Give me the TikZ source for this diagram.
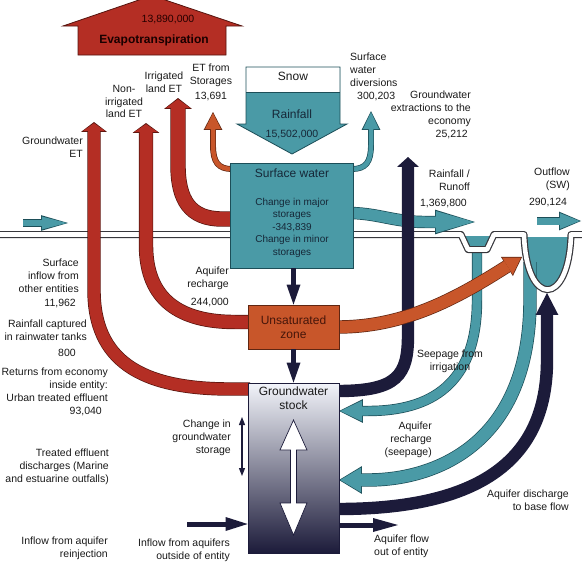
\documentclass[tikz,border=0pt]{standalone}
\usepackage{fontspec}
\setmainfont{Liberation Sans}
\usetikzlibrary{arrows.meta}
\definecolor{etred}{RGB}{180,46,36}
\definecolor{redge}{RGB}{85,20,14}
\definecolor{teal1}{RGB}{74,154,166}
\definecolor{tedge}{RGB}{28,78,88}
\definecolor{orng}{RGB}{200,86,42}
\definecolor{oedge}{RGB}{95,38,18}
\definecolor{navy}{RGB}{28,27,58}
\definecolor{gwtop}{RGB}{242,244,250}
\definecolor{gwmid}{RGB}{150,152,176}
\definecolor{txtc}{RGB}{25,25,25}
\definecolor{swtxt}{RGB}{22,40,56}
\definecolor{untxt}{RGB}{70,22,10}
\definecolor{gedge}{RGB}{55,55,60}
\newcommand{\lblfont}{\fontsize{10.5}{12.7}\selectfont}
\newcommand{\flowarr}[6]{%
  \pgfmathsetmacro{\fa}{#3+1.4}%
  \pgfmathsetmacro{\fb}{#4+2.6}%
  \pgfmathsetmacro{\fc}{#5+1.8}%
  \draw[line width=\fa pt, draw=#2, -{Triangle[width=\fb pt,length=\fc pt,line width=0pt]}] #6;%
  \draw[line width=#3pt, draw=#1, -{Triangle[width=#4pt,length=#5pt,line width=0pt]}, shorten >=1.2pt] #6;%
}
\tikzset{
  lbl/.style={font=\lblfont, text=txtc, inner sep=0pt},
  navyarr/.style={draw=navy, line width=5pt, -{Triangle[width=14pt,length=20pt,line width=0pt]}},
}
\begin{document}
\begin{tikzpicture}[x=1pt,y=-1pt]
\useasboundingbox (0,0) rectangle (582,562);
\def\groundpath{(0,234.5) -- (461,234.5) -- (468,249.5) -- (487,249.5) -- (494,234.5) -- (524,234.5) .. controls (526,308) and (569,308) .. (571,234.5) -- (582,234.5)}

% water
\fill[teal1] (462,236) -- (469,249) -- (486,249) -- (493,236) -- cycle;
\fill[teal1] (524,237) .. controls (526,308) and (569,308) .. (571,237) -- cycle;

% teal bands from channels (under the ground band)
\flowarr{teal1}{tedge}{9}{21}{22}{(477,252) -- (477,300) .. controls (477,385) and (430,411) .. (368,411) -- (339,411)}
\flowarr{teal1}{tedge}{12}{25}{21}{(530,262) -- (530,300) .. controls (530,440) and (440,480) .. (368,480) -- (339,480)}

% ground surface
\draw[line width=7pt, gedge, line join=round] \groundpath;
\draw[line width=4.6pt, white, line join=round] \groundpath;

% named flow ends
\coordinate (gwetT) at (94,122);
\coordinate (nirrT) at (146,123);
\coordinate (irrT) at (178,98);
\coordinate (etsT) at (213,112);
\coordinate (divT) at (371,111);
\coordinate (runT) at (475,222);
\coordinate (extT) at (408,157);
\coordinate (disT) at (547,293);
\coordinate (orT) at (522,257);
\coordinate (siA) at (23,223);
\coordinate (siB) at (68,223);
\coordinate (ofA) at (537,221);
\coordinate (ofB) at (581,221);

% ET flows
\flowarr{etred}{redge}{12}{23}{8}{(250,389) -- (230,389) .. controls (140,389) and (94,360) .. (94,290) -- (gwetT)}
\flowarr{etred}{redge}{13}{24}{8}{(250,322) -- (235,322) .. controls (180,322) and (146,300) .. (146,245) -- (nirrT)}
\flowarr{etred}{redge}{14}{25}{9}{(232,219) -- (222,219) .. controls (190,219) and (178,200) .. (178,165) -- (irrT)}
\flowarr{orng}{oedge}{4.5}{16}{16}{(232,169) .. controls (218,169) and (213,162) .. (213,145) -- (etsT)}
\flowarr{teal1}{tedge}{4.5}{16}{17}{(352,169) .. controls (366,169) and (371,162) .. (371,145) -- (divT)}

% runoff, extraction, discharge, orange
\flowarr{teal1}{tedge}{11}{22}{38}{(352,213) .. controls (380,214) and (395,222) .. (425,222) -- (runT)}
\flowarr{navy}{navy}{11}{19}{8}{(338,391) .. controls (398,391) and (408,375) .. (408,335) -- (extT)}
\flowarr{navy}{navy}{11}{20}{20}{(338,509) .. controls (480,509) and (547,460) .. (547,360) -- (disT)}
\flowarr{orng}{oedge}{12}{20}{16}{(338,327) .. controls (400,327) and (450,302) .. (498,272) -- (orT)}

% small surface arrows
\flowarr{teal1}{tedge}{6}{13}{25}{(siA) -- (siB)}
\flowarr{teal1}{tedge}{7}{16}{20}{(ofA) -- (ofB)}

% Evapotranspiration arrow
\begin{scope}
\clip (0,0) rectangle (582,562);
\draw[fill=etred, draw=redge, line width=0.8pt] (78,55) -- (78,26) -- (63,26) -- (152,-4.5) -- (242,26) -- (226,26) -- (226,55) -- cycle;
\end{scope}
\node[font=\lblfont, text=black!85!red, inner sep=0pt, anchor=mid] (evv) at (168,20) {13,890,000};
\node[font=\fontsize{12}{14}\selectfont\bfseries, text=black!90!red, inner sep=0pt] (evt) at (154,40) {Evapotranspiration};

% Snow / Rainfall arrow
\fill[teal1] (246,67) -- (340,67) -- (340,124) -- (347,124) -- (292,154) -- (237,124) -- (246,124) -- cycle;
\fill[white] (246,67) rectangle (340,92);
\draw[tedge, line width=0.8pt, line join=miter] (246,67) -- (340,67) -- (340,124) -- (347,124) -- (292,154) -- (237,124) -- (246,124) -- cycle;
\draw[tedge, line width=0.8pt] (246,92) -- (340,92);
\node[font=\fontsize{12}{14}\selectfont, text=txtc, inner sep=0pt, anchor=mid] (snow) at (293,78) {Snow};
\node[font=\fontsize{12}{14}\selectfont, text=swtxt, inner sep=0pt, anchor=mid] (rain) at (292,116) {Rainfall};
\node[font=\lblfont, text=swtxt, inner sep=0pt, anchor=mid] (rainv) at (292,135) {15,502,000};

% boxes
\node[draw=tedge, fill=teal1, line width=0.8pt, minimum width=123pt, minimum height=105pt, inner sep=0pt] (sw) at (291.5,215.5) {};
\node[font=\fontsize{12}{14}\selectfont, text=swtxt, inner sep=0pt, anchor=mid] (swt) at (292,175) {Surface water};
\node[font=\fontsize{10}{12.5}\selectfont, text=swtxt, inner sep=0pt, align=center, anchor=north] (swd) at (292,198) {Change in major\\storages\\-343,839\\Change in minor\\storages};

\node[draw=oedge, fill=orng, line width=0.8pt, minimum width=91pt, minimum height=44pt, inner sep=0pt, font=\fontsize{12}{13.5}\selectfont, text=untxt, align=center] (un) at (293.5,327) {Unsaturated\\zone};

\node[draw=navy, top color=gwtop, middle color=gwmid, bottom color=navy, line width=0.8pt, minimum width=91pt, minimum height=170pt, inner sep=0pt] (gw) at (293.5,468) {};
\node[font=\fontsize{12}{13.5}\selectfont, text=txtc, inner sep=0pt, align=center, anchor=north] (gwt) at (293.5,387) {Groundwater\\stock};

% arrows between boxes
\draw[navyarr] (sw.south -| un.north) -- (un.north);
\draw[navyarr] (un.south) -- (gw.north);

% double arrow in groundwater stock
\draw[fill=white, draw=navy, line width=0.7pt, line join=miter] (293.5,420) -- (307,450) -- (296.5,450) -- (296.5,503) -- (307,503) -- (293.5,535) -- (280,503) -- (290.5,503) -- (290.5,450) -- (280,450) -- cycle;

% change in storage arrow
\coordinate (cs1) at (242,417);
\coordinate (cs2) at (242,476);
\draw[navy, line width=1.3pt, {Triangle[width=6pt,length=8pt]}-{Triangle[width=6pt,length=8pt]}] (cs1) -- (cs2);

% aquifer in/out arrows
\coordinate (inA) at (187,524);
\coordinate (outB) at (398,525);
\draw[navy, line width=5pt, -{Triangle[width=14pt,length=22pt,line width=0pt]}] (inA) -- (gw.west |- inA);
\draw[navy, line width=5pt, -{Triangle[width=14pt,length=25pt,line width=0pt]}] (gw.east |- outB) -- (outB);

% labels
\node[lbl, align=center, anchor=north] (etst) at (211,64) {ET from\\Storages\\[2pt]13,691};
\node[lbl, align=center, anchor=north] (irr) at (164,72) {Irrigated\\land ET};
\node[lbl, align=center, anchor=north] (nirr) at (124,85) {Non-\\irrigated\\land ET};
\node[lbl, align=right, anchor=north east] (gwet) at (83,137) {Groundwater\\ET};
\node[lbl, align=left, anchor=north west] (swdiv) at (350,53) {Surface\\water\\diversions\\[1pt]\hspace*{7pt}300,203};
\node[lbl, align=right, anchor=north east] (gwext) at (471,91) {Groundwater\\extractions to the\\economy\\[1pt]25,212\hspace*{3pt}};
\node[lbl, align=right, anchor=north east] (runoff) at (470,170) {Rainfall /\\Runoff\\[3pt]1,369,800\hspace*{3pt}};
\node[lbl, align=right, anchor=north east] (outfl) at (570,168) {Outflow\\(SW)};
\node[lbl, anchor=mid] (outv) at (548,203) {290,124};
\node[lbl, align=right, anchor=north east] (sinfl) at (79,259) {Surface\\inflow from\\other entities};
\node[lbl, anchor=mid east] (sinv) at (76,304) {11,962};
\node[lbl, align=right, anchor=north east] (rwt) at (87,320) {Rainfall captured\\in rainwater tanks};
\node[lbl, anchor=mid] (rwtv) at (67,354) {800};
\node[lbl, align=right, anchor=north east] (ret) at (108,368) {Returns from economy\\inside entity:\\Urban treated effluent};
\node[lbl, anchor=mid east] (retv) at (102,412) {93,040};
\node[lbl, align=right, anchor=north east] (teff) at (109,449) {Treated effluent\\discharges (Marine\\and estuarine outfalls)};
\node[lbl, align=right, anchor=north east] (reinj) at (108,537) {Inflow from aquifer\\reinjection};
\node[lbl, align=right, anchor=north east] (cgs) at (231,420) {Change in\\groundwater\\storage};
\node[lbl, align=right, anchor=north east] (ioe) at (230,539) {Inflow from aquifers\\outside of entity};
\node[lbl, align=right, anchor=north east] (aqr) at (229,267) {Aquifer\\recharge};
\node[lbl, anchor=mid east] (aqrv) at (229,303) {244,000};
\node[lbl, align=center, anchor=north] (seep) at (450,350) {Seepage from\\irrigation};
\node[lbl, align=right, anchor=north east] (aqrs) at (432,422) {Aquifer\\recharge\\(seepage)};
\node[lbl, align=right, anchor=north east] (aqd) at (569,490) {Aquifer discharge\\to base flow};
\node[lbl, align=left, anchor=north west] (aqf) at (374,535) {Aquifer flow\\out of entity};
\end{tikzpicture}
\end{document}
